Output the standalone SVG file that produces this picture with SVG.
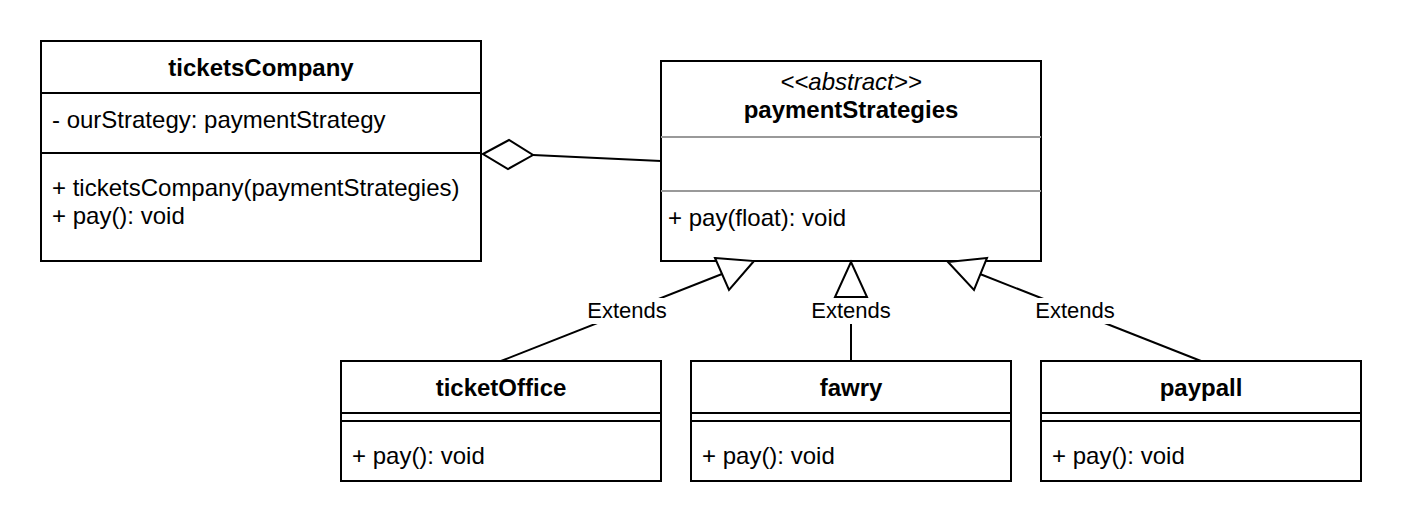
<svg xmlns="http://www.w3.org/2000/svg" width="1402" height="528" viewBox="0 0 1402 528">
<style>
.box{fill:#fff;stroke:#000;stroke-width:2}
.sep{stroke:#000;stroke-width:2}
.gsep{stroke:#999;stroke-width:2}
text{font-family:"Liberation Sans",Arial,sans-serif;font-size:24px;fill:#000}
.t{font-weight:bold;text-anchor:middle}
.st{font-style:italic;text-anchor:middle}
.lbl{font-size:22px;text-anchor:middle}
.ln{fill:none;stroke:#000;stroke-width:2}
.head{fill:#fff;stroke:#000;stroke-width:2;stroke-linejoin:miter}
.lbg{fill:#fff;stroke:none}
</style>
<rect width="1402" height="528" fill="#fff"/>
<g id="ticketsCompany">
<rect class="box" x="41" y="41" width="440" height="220"/>
<line class="sep" x1="41" y1="93" x2="481" y2="93"/>
<line class="sep" x1="41" y1="153" x2="481" y2="153"/>
<text class="t" x="261" y="76">ticketsCompany</text>
<text x="52" y="128">- ourStrategy: paymentStrategy</text>
<text x="52" y="196">+ ticketsCompany(paymentStrategies)</text>
<text x="52" y="224">+ pay(): void</text>
</g>
<g id="paymentStrategies">
<rect class="box" x="661" y="61" width="380" height="200"/>
<line class="gsep" x1="661" y1="137" x2="1041" y2="137"/>
<line class="gsep" x1="661" y1="191" x2="1041" y2="191"/>
<text class="st" x="851" y="90">&lt;&lt;abstract&gt;&gt;</text>
<text class="t" x="851" y="118">paymentStrategies</text>
<text x="668" y="226">+ pay(float): void</text>
</g>
<g id="ticketOffice">
<rect class="box" x="341" y="361" width="320" height="120"/>
<line class="sep" x1="341" y1="413" x2="661" y2="413"/>
<line class="sep" x1="341" y1="421" x2="661" y2="421"/>
<text class="t" x="501" y="396">ticketOffice</text>
<text x="352" y="464">+ pay(): void</text>
</g>
<g id="fawry">
<rect class="box" x="691" y="361" width="320" height="120"/>
<line class="sep" x1="691" y1="413" x2="1011" y2="413"/>
<line class="sep" x1="691" y1="421" x2="1011" y2="421"/>
<text class="t" x="851" y="396">fawry</text>
<text x="702" y="464">+ pay(): void</text>
</g>
<g id="paypall">
<rect class="box" x="1041" y="361" width="320" height="120"/>
<line class="sep" x1="1041" y1="413" x2="1361" y2="413"/>
<line class="sep" x1="1041" y1="421" x2="1361" y2="421"/>
<text class="t" x="1201" y="396">paypall</text>
<text x="1052" y="464">+ pay(): void</text>
</g>
<g id="connectors">
<line class="ln" x1="533" y1="155" x2="661" y2="161"/>
<polygon class="head" points="483,154 509,140 533,155 508,169"/>
<line class="ln" x1="501" y1="361" x2="722" y2="274"/>
<polygon class="head" points="715,258 754,261 729,290"/>
<rect class="lbg" x="586" y="298" width="82" height="26"/>
<text class="lbl" x="627" y="318">Extends</text>
<line class="ln" x1="851" y1="361" x2="851" y2="297"/>
<polygon class="head" points="851,262 867,297 835,297"/>
<rect class="lbg" x="810" y="298" width="82" height="26"/>
<text class="lbl" x="851" y="318">Extends</text>
<line class="ln" x1="1201" y1="361" x2="980" y2="274"/>
<polygon class="head" points="987,258 948,262 974,290"/>
<rect class="lbg" x="1034" y="298" width="82" height="26"/>
<text class="lbl" x="1075" y="318">Extends</text>
</g>
</svg>
